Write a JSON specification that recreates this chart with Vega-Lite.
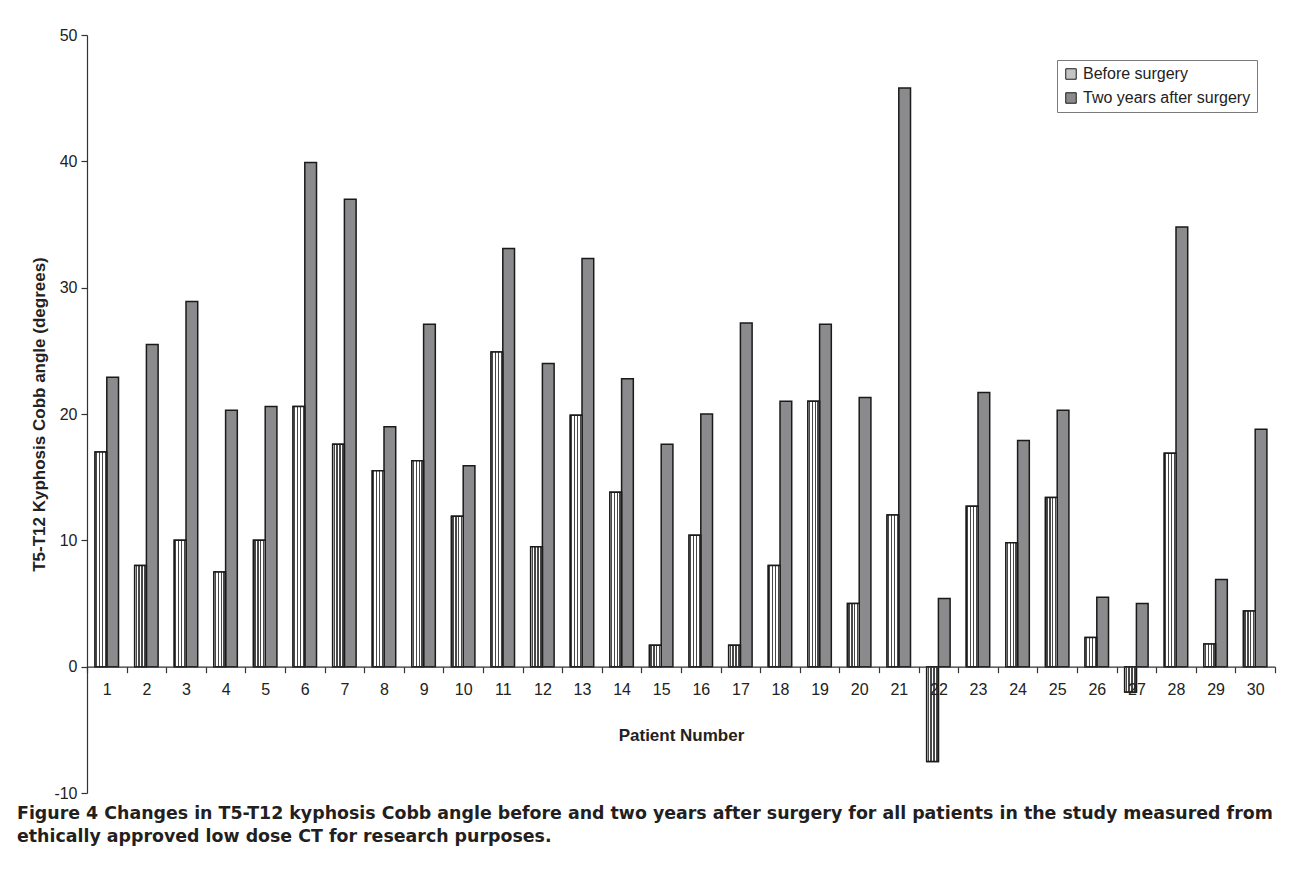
{
  "$schema": "https://vega.github.io/schema/vega-lite/v6.json",
  "width": 1188,
  "height": 758,
  "autosize": "none",
  "padding": {"left": 87, "top": 35, "right": 15, "bottom": 80},
  "background": "white",
  "title": {
    "text": ["Figure 4 Changes in T5-T12 kyphosis Cobb angle before and two years after surgery for all patients in the study measured from", "ethically approved low dose CT for research purposes."],
    "orient": "bottom",
    "anchor": "start",
    "frame": "group",
    "dx": -70,
    "offset": 4,
    "font": "DejaVu Sans",
    "fontSize": 17.4,
    "fontWeight": "bold",
    "color": "#231f20",
    "lineHeight": 23
  },
  "data": {
    "values": [
      {"patient": 1, "when": "Before surgery", "angle": 17.0}, {"patient": 1, "when": "Two years after surgery", "angle": 22.9},
      {"patient": 2, "when": "Before surgery", "angle": 8.0}, {"patient": 2, "when": "Two years after surgery", "angle": 25.5},
      {"patient": 3, "when": "Before surgery", "angle": 10.0}, {"patient": 3, "when": "Two years after surgery", "angle": 28.9},
      {"patient": 4, "when": "Before surgery", "angle": 7.5}, {"patient": 4, "when": "Two years after surgery", "angle": 20.3},
      {"patient": 5, "when": "Before surgery", "angle": 10.0}, {"patient": 5, "when": "Two years after surgery", "angle": 20.6},
      {"patient": 6, "when": "Before surgery", "angle": 20.6}, {"patient": 6, "when": "Two years after surgery", "angle": 39.9},
      {"patient": 7, "when": "Before surgery", "angle": 17.6}, {"patient": 7, "when": "Two years after surgery", "angle": 37.0},
      {"patient": 8, "when": "Before surgery", "angle": 15.5}, {"patient": 8, "when": "Two years after surgery", "angle": 19.0},
      {"patient": 9, "when": "Before surgery", "angle": 16.3}, {"patient": 9, "when": "Two years after surgery", "angle": 27.1},
      {"patient": 10, "when": "Before surgery", "angle": 11.9}, {"patient": 10, "when": "Two years after surgery", "angle": 15.9},
      {"patient": 11, "when": "Before surgery", "angle": 24.9}, {"patient": 11, "when": "Two years after surgery", "angle": 33.1},
      {"patient": 12, "when": "Before surgery", "angle": 9.5}, {"patient": 12, "when": "Two years after surgery", "angle": 24.0},
      {"patient": 13, "when": "Before surgery", "angle": 19.9}, {"patient": 13, "when": "Two years after surgery", "angle": 32.3},
      {"patient": 14, "when": "Before surgery", "angle": 13.8}, {"patient": 14, "when": "Two years after surgery", "angle": 22.8},
      {"patient": 15, "when": "Before surgery", "angle": 1.7}, {"patient": 15, "when": "Two years after surgery", "angle": 17.6},
      {"patient": 16, "when": "Before surgery", "angle": 10.4}, {"patient": 16, "when": "Two years after surgery", "angle": 20.0},
      {"patient": 17, "when": "Before surgery", "angle": 1.7}, {"patient": 17, "when": "Two years after surgery", "angle": 27.2},
      {"patient": 18, "when": "Before surgery", "angle": 8.0}, {"patient": 18, "when": "Two years after surgery", "angle": 21.0},
      {"patient": 19, "when": "Before surgery", "angle": 21.0}, {"patient": 19, "when": "Two years after surgery", "angle": 27.1},
      {"patient": 20, "when": "Before surgery", "angle": 5.0}, {"patient": 20, "when": "Two years after surgery", "angle": 21.3},
      {"patient": 21, "when": "Before surgery", "angle": 12.0}, {"patient": 21, "when": "Two years after surgery", "angle": 45.8},
      {"patient": 22, "when": "Before surgery", "angle": -7.5}, {"patient": 22, "when": "Two years after surgery", "angle": 5.4},
      {"patient": 23, "when": "Before surgery", "angle": 12.7}, {"patient": 23, "when": "Two years after surgery", "angle": 21.7},
      {"patient": 24, "when": "Before surgery", "angle": 9.8}, {"patient": 24, "when": "Two years after surgery", "angle": 17.9},
      {"patient": 25, "when": "Before surgery", "angle": 13.4}, {"patient": 25, "when": "Two years after surgery", "angle": 20.3},
      {"patient": 26, "when": "Before surgery", "angle": 2.3}, {"patient": 26, "when": "Two years after surgery", "angle": 5.5},
      {"patient": 27, "when": "Before surgery", "angle": -2.0}, {"patient": 27, "when": "Two years after surgery", "angle": 5.0},
      {"patient": 28, "when": "Before surgery", "angle": 16.9}, {"patient": 28, "when": "Two years after surgery", "angle": 34.8},
      {"patient": 29, "when": "Before surgery", "angle": 1.8}, {"patient": 29, "when": "Two years after surgery", "angle": 6.9},
      {"patient": 30, "when": "Before surgery", "angle": 4.4}, {"patient": 30, "when": "Two years after surgery", "angle": 18.8}
    ]
  },
  "encoding": {
    "x": {
      "field": "patient",
      "type": "ordinal",
      "scale": {"paddingInner": 0, "paddingOuter": 0},
      "axis": {
        "title": "Patient Number",
        "labelAngle": 0,
        "offset": -126.33,
        "tickBand": "extent",
        "tickSize": 6,
        "labelPadding": 9,
        "titlePadding": 30,
        "zindex": 1
      }
    },
    "xOffset": {
      "field": "when",
      "type": "nominal",
      "scale": {"paddingInner": 0, "paddingOuter": 0.69}
    },
    "y": {
      "field": "angle",
      "type": "quantitative",
      "scale": {"domain": [-10, 50], "nice": false, "zero": false},
      "axis": {
        "title": "T5-T12 Kyphosis Cobb angle (degrees)",
        "values": [-10, 0, 10, 20, 30, 40, 50],
        "labelExpr": "datum.value < 0 ? '-' + abs(datum.value) : '' + datum.value",
        "grid": false,
        "tickSize": 6,
        "labelPadding": 4,
        "titlePadding": 5
      }
    }
  },
  "layer": [
    {
      "mark": {"type": "bar", "stroke": "#1a1a1a", "strokeWidth": 1.5},
      "encoding": {
        "fill": {
          "field": "when",
          "type": "nominal",
          "scale": {"domain": ["Before surgery", "Two years after surgery"], "range": ["#c4c4c4", "#8b8b8e"]},
          "legend": {
            "title": null,
            "orient": "none",
            "legendX": 970,
            "legendY": 25,
            "strokeColor": "#7a7a7a",
            "padding": 6,
            "symbolType": "square",
            "symbolSize": 110,
            "symbolStrokeColor": "#1a1a1a",
            "symbolStrokeWidth": 1,
            "labelFont": "Liberation Sans",
            "labelFontSize": 16,
            "labelColor": "#222",
            "labelLimit": 0,
            "rowPadding": 8,
            "symbolOffset": 0
          }
        }
      }
    },
    {
      "transform": [{"filter": "datum.when === 'Before surgery'"}],
      "mark": {
        "type": "bar",
        "stroke": "#1a1a1a",
        "strokeWidth": 1.5,
        "fill": {
          "gradient": "linear",
          "x1": 0, "y1": 0, "x2": 1, "y2": 0,
          "stops": [
            {"offset": 0, "color": "#ffffff"},
            {"offset": 0.07, "color": "#ffffff"},
            {"offset": 0.07, "color": "#484848"},
            {"offset": 0.18, "color": "#484848"},
            {"offset": 0.18, "color": "#ffffff"},
            {"offset": 0.32, "color": "#ffffff"},
            {"offset": 0.32, "color": "#484848"},
            {"offset": 0.43, "color": "#484848"},
            {"offset": 0.43, "color": "#ffffff"},
            {"offset": 0.57, "color": "#ffffff"},
            {"offset": 0.57, "color": "#484848"},
            {"offset": 0.68, "color": "#484848"},
            {"offset": 0.68, "color": "#ffffff"},
            {"offset": 0.82, "color": "#ffffff"},
            {"offset": 0.82, "color": "#484848"},
            {"offset": 0.93, "color": "#484848"},
            {"offset": 0.93, "color": "#ffffff"},
            {"offset": 1, "color": "#ffffff"}
          ]
        }
      }
    }
  ],
  "config": {
    "view": {"stroke": null},
    "axis": {
      "domainColor": "#333",
      "tickColor": "#333",
      "labelColor": "#222",
      "labelFont": "Liberation Sans",
      "labelFontSize": 16,
      "titleFont": "Liberation Sans",
      "titleFontSize": 17,
      "titleFontWeight": "bold",
      "titleColor": "#222",
      "domainWidth": 1.2,
      "tickWidth": 1.2
    }
  }
}
